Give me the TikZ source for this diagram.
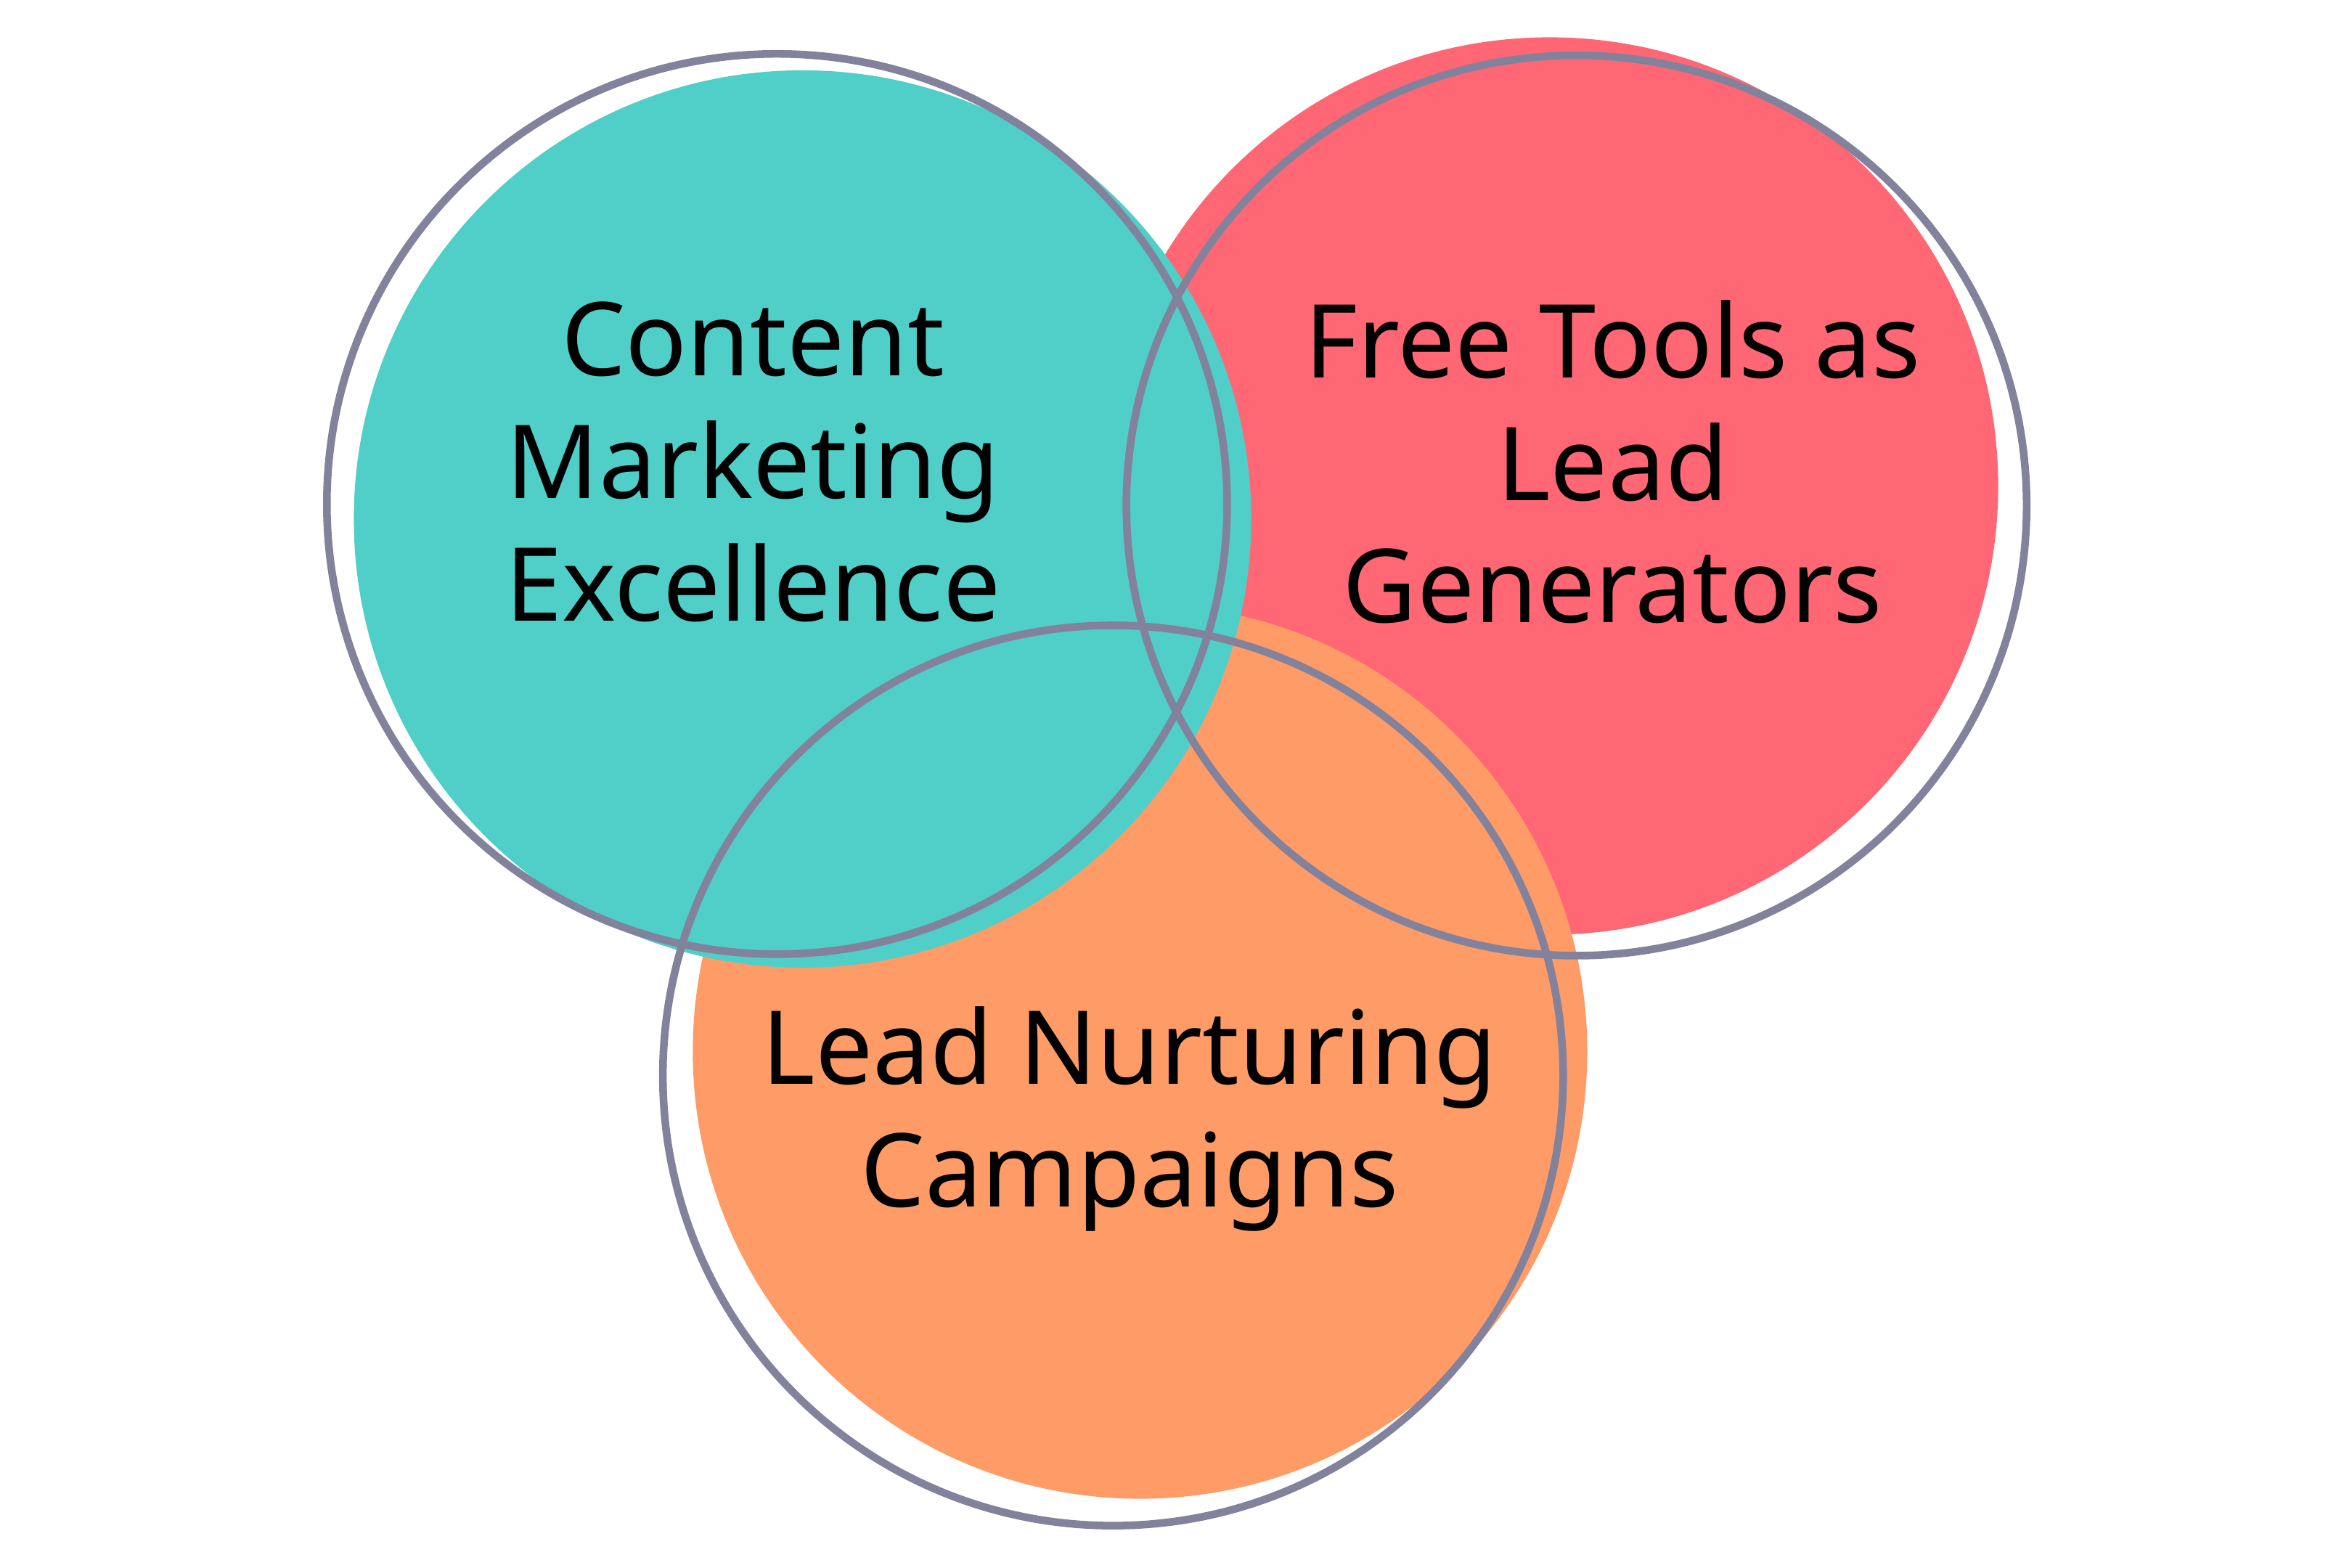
\documentclass[tikz,border=0pt]{standalone}
\usepackage{fontspec}
\setmainfont{Noto Sans}
\begin{document}
\begin{tikzpicture}[x=0.020663cm,y=-0.020663cm,
  ring/.style={draw=ringc,line width=3pt},
  lbl/.style={align=center,font=\fontsize{40}{48}\selectfont,text=black}]
\definecolor{tealc}{HTML}{50CEC8}
\definecolor{redc}{HTML}{FF6775}
\definecolor{orangec}{HTML}{FF9B66}
\definecolor{ringc}{HTML}{83829C}
\useasboundingbox[fill=white] (0,0) rectangle (1568,1045.3);
\fill[redc] (1033,324) circle[radius=6.18cm];
\fill[orangec] (760,701) circle[radius=6.16cm];
\fill[tealc] (535,346) circle[radius=6.18cm];
\draw[ring] (518,336) circle[radius=6.2cm];
\draw[ring] (1051,337) circle[radius=6.2cm];
\draw[ring] (742,717) circle[radius=6.2cm];
\node[lbl] (t1) at (502,308) {Content\\Marketing\\Excellence};
\node[lbl] (t2) at (1075,308) {Free Tools as\\Lead\\Generators};
\node[lbl] (t3) at (753,746) {Lead Nurturing\\Campaigns};
\end{tikzpicture}
\end{document}
